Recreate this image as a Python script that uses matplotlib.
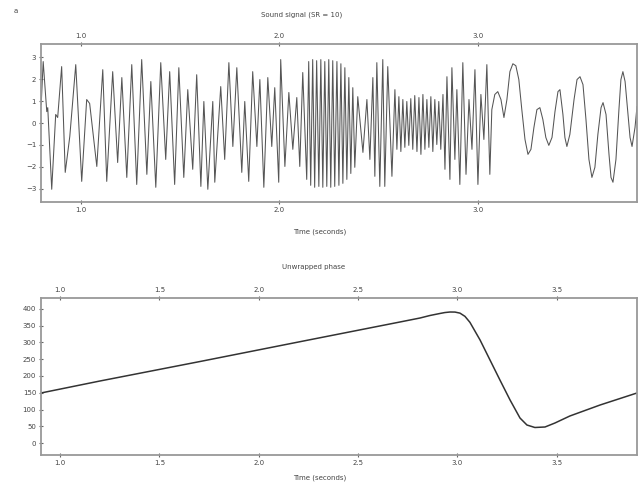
import matplotlib
matplotlib.use("Agg")
import matplotlib.pyplot as plt

# signal: time (s) and amplitude at the turning points of the waveform
sig_t = [0.801, 0.811, 0.829, 0.834, 0.854, 0.874, 0.884, 0.904, 0.922, 0.945,
         0.975, 1.005, 1.030, 1.045, 1.081, 1.111, 1.131, 1.161, 1.186, 1.207,
         1.232, 1.257, 1.282, 1.307, 1.333, 1.353, 1.378, 1.403, 1.428, 1.448,
         1.473, 1.494, 1.519, 1.539, 1.564, 1.584, 1.605, 1.620, 1.640, 1.665,
         1.675, 1.705, 1.725, 1.746, 1.766, 1.786, 1.811, 1.826, 1.846, 1.866,
         1.887, 1.902, 1.922, 1.942, 1.962, 1.977, 1.997, 2.007, 2.028, 2.048,
         2.068, 2.088, 2.103, 2.118, 2.138,
         2.148, 2.158, 2.168, 2.178, 2.188, 2.199, 2.209, 2.219, 2.229, 2.239,
         2.249, 2.259, 2.269, 2.279, 2.290, 2.300, 2.310, 2.320, 2.330, 2.340,
         2.350, 2.360, 2.370, 2.380, 2.395, 2.421, 2.441, 2.456, 2.471, 2.481,
         2.491, 2.506, 2.521, 2.531, 2.546, 2.567, 2.582,
         2.592, 2.602, 2.612, 2.622, 2.632, 2.642, 2.652, 2.662, 2.672, 2.682,
         2.693, 2.703, 2.713, 2.723, 2.733, 2.743, 2.753, 2.763, 2.773, 2.783,
         2.793, 2.803, 2.813, 2.824, 2.834, 2.844,
         2.859, 2.869, 2.884, 2.894, 2.909, 2.924, 2.940, 2.955, 2.970, 2.985,
         3.000, 3.015, 3.030, 3.045, 3.060,
         3.070, 3.085, 3.100, 3.116, 3.131, 3.146, 3.161, 3.176, 3.191, 3.206,
         3.221, 3.237, 3.252, 3.267, 3.282, 3.297, 3.312, 3.327, 3.342, 3.357,
         3.373, 3.388, 3.403, 3.413, 3.428, 3.438, 3.448, 3.463, 3.484, 3.499,
         3.514, 3.529, 3.544, 3.559, 3.574, 3.589, 3.604, 3.620, 3.630, 3.645,
         3.660, 3.670, 3.680, 3.695, 3.710, 3.720, 3.730, 3.741, 3.756, 3.766,
         3.776, 3.791, 3.801]
sig_a = [0.84, 2.80, 0.52, 0.70, -3.02, 0.39, 0.25, 2.57, -2.25, -0.61,
         2.66, -2.66, 1.07, 0.89, -1.98, 2.43, -2.66, 2.34, -1.80, 2.07,
         -2.48, 2.66, -2.80, 2.89, -2.34, 1.89, -2.93, 2.75, -1.66, 2.34,
         -2.80, 2.52, -2.48, 1.52, -2.11, 2.20, -2.89, 0.98, -3.02, 0.98,
         -2.70, 1.66, -1.66, 2.75, -1.07, 2.52, -2.25, 0.98, -2.66, 2.34,
         -1.07, 1.98, -2.93, 2.07, -1.07, 1.61, -2.70, 2.89, -1.98, 1.39,
         -1.20, 1.16, -1.98, 2.30, -2.57,
         2.80, -2.84, 2.89, -2.93, 2.84, -2.89, 2.89, -2.93, 2.80, -2.89,
         2.89, -2.93, 2.84, -2.89, 2.80, -2.84, 2.70, -2.75, 2.52, -2.57,
         2.07, -2.30, 1.61, -2.02, 1.20, -1.34, 1.07, -1.66, 2.07, -2.43,
         2.75, -2.89, 2.89, -2.89, 2.57, -2.43, 1.52,
         -1.20, 1.20, -1.30, 1.07, -1.11, 0.98, -1.02, 1.11, -1.20, 1.25,
         -1.30, 1.16, -1.43, 1.30, -1.20, 1.07, -1.11, 1.20, -1.30, 1.07,
         -0.98, 0.98, -1.20, 1.30, -2.11, 2.11,
         -2.57, 2.52, -1.66, 1.52, -2.80, 2.75, -2.34, 1.07, -1.20, 2.43,
         -2.80, 1.30, -0.75, 2.66, -2.34,
         0.61, 1.30, 1.43, 1.07, 0.25, 1.07, 2.34, 2.70, 2.61, 1.98,
         0.61, -0.75, -1.43, -1.20, -0.20, 0.61, 0.70, 0.16, -0.66, -1.02,
         -0.66, 0.52, 1.43, 1.52, 0.39, -0.66, -1.07, -0.52, 1.07, 1.98,
         2.11, 1.75, 0.16, -1.66, -2.48, -2.02, -0.52, 0.70, 0.93, 0.39,
         -1.43, -2.48, -2.70, -1.66, 0.61, 1.98, 2.34, 1.89, 0.39, -0.66,
         -1.07, -0.20, 0.75]

# unwrapped phase
ph_t = [0.904, 1.201, 1.705, 2.208, 2.711, 2.812, 2.862, 2.912, 2.937, 2.963,
        2.988, 3.013, 3.038, 3.063, 3.114, 3.164, 3.214, 3.265, 3.315, 3.350,
        3.390, 3.441, 3.491, 3.566, 3.718, 3.904]
ph_v = [149.3, 185.1, 243.3, 302.4, 361.2, 373.1, 380.6, 386.6, 389.4, 391.0,
        390.8, 387.6, 378.0, 360.2, 307.5, 247.8, 188.1, 128.4, 74.6, 53.7,
        46.3, 47.8, 59.7, 80.6, 113.4, 149.3]

top_ticks = [1, 2, 3]
top_labels = ["1.0", "2.0", "3.0"]
sig_yticks = [-3, -2, -1, 0, 1, 2, 3]
bot_ticks = [1.0, 1.5, 2.0, 2.5, 3.0, 3.5]
bot_labels = ["1.0", "1.5", "2.0", "2.5", "3.0", "3.5"]
ph_yticks = [0, 50, 100, 150, 200, 250, 300, 350, 400]

frame_col = "#999999"
txt_col = "#444444"
fs = 5

fig = plt.figure(figsize=(6.42, 4.84), dpi=100)


def style_axes(ax):
    for sp in ax.spines.values():
        sp.set_color(frame_col)
        sp.set_linewidth(1.3)
    ax.tick_params(axis="both", direction="inout", length=3, width=0.8,
                   color="#666666", labelsize=fs, labelcolor=txt_col,
                   top=True, labeltop=True, pad=2)
    ax.tick_params(axis="y", right=False)


# --- signal ---
ax1 = fig.add_axes([41 / 642, 1 - 202 / 484, 596 / 642, 158 / 484])
ax1.plot(sig_t, sig_a, color="#555555", linewidth=0.75)
ax1.set_xlim(0.8, 3.801)
ax1.set_ylim(-3.6, 3.6)
ax1.set_xticks(top_ticks)
ax1.set_xticklabels(top_labels)
ax1.set_yticks(sig_yticks)
style_axes(ax1)

# --- unwrapped phase ---
ax2 = fig.add_axes([41 / 642, 1 - 455 / 484, 596 / 642, 157 / 484])
ax2.plot(ph_t, ph_v, color="#333333", linewidth=1.1)
ax2.set_xlim(0.904, 3.904)
ax2.set_ylim(-35.8, 432.8)
ax2.set_xticks(bot_ticks)
ax2.set_xticklabels(bot_labels)
ax2.set_yticks(ph_yticks)
style_axes(ax2)

fig.text(14 / 642, 1 - 11 / 484, "a", fontsize=5, color=txt_col,
         ha="left", va="center")
fig.text(302 / 642, 1 - 15 / 484, "Sound signal (SR = 10)", fontsize=5,
         color=txt_col, ha="center", va="center")
fig.text(320 / 642, 1 - 232 / 484, "Time (seconds)", fontsize=5,
         color=txt_col, ha="center", va="center")
fig.text(314 / 642, 1 - 267 / 484, "Unwrapped phase", fontsize=5,
         color=txt_col, ha="center", va="center")
fig.text(320 / 642, 1 - 478 / 484, "Time (seconds)", fontsize=5,
         color=txt_col, ha="center", va="center")

fig.savefig("out.png", dpi=100)
